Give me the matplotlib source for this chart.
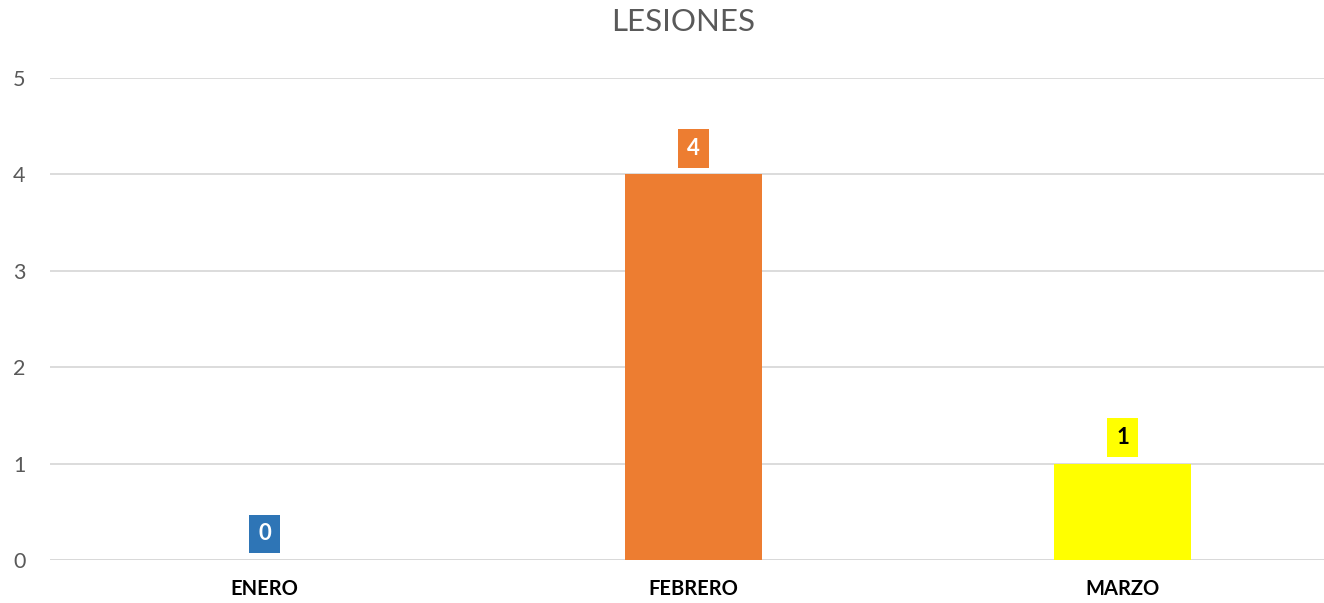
import matplotlib
matplotlib.use("Agg")
import matplotlib.pyplot as plt

categories = ["ENERO", "FEBRERO", "MARZO"]
values = [0, 4, 1]
colors = ["#2E75B6", "#ED7D31", "#FFFF00"]
label_colors = ["white", "white", "black"]
yticks = [0, 1, 2, 3, 4, 5]
title = "LESIONES"

plt.rcParams['font.family'] = ['Lato', 'DejaVu Sans']

fig = plt.figure(figsize=(13.24, 6.03), dpi=100)
ax = fig.add_axes([50/1324, 43/603, (1336.5-49.5)/1324, (560-78)/603])

x = list(range(len(categories)))
ax.bar(x, values, width=0.318, color=colors, zorder=3)
ax.set_xlim(-0.5, 2.5)
ax.set_ylim(0, 5)
ax.set_yticks(yticks)
ax.set_xticks(x)
ax.set_xticklabels(categories, fontweight='bold', fontsize=14.5, color='black')
ax.tick_params(axis='x', length=0, pad=14)
ax.tick_params(axis='y', length=0, pad=22, labelsize=15.5, labelcolor='#595959')
for lbl in ax.get_yticklabels():
    lbl.set_horizontalalignment('center')
ax.yaxis.grid(True, color='#d9d9d9', linewidth=1.3, zorder=0)
for s in ax.spines.values():
    s.set_visible(False)
ax.axhline(0, color='#d9d9d9', linewidth=1.3, zorder=1)

for xi, v, c, lc in zip(x, values, colors, label_colors):
    ax.annotate(str(v), (xi, v), xytext=(0, 26*72/100), textcoords='offset points',
                ha='center', va='center', fontsize=16, fontweight='bold', color=lc,
                bbox=dict(boxstyle='square,pad=0.4', fc=c, ec='none'), zorder=4)

fig.text(683/1324, 1 - 22/603, title, ha='center', va='center', fontsize=22.5, color='#595959')

fig.savefig("out.png", dpi=100)
